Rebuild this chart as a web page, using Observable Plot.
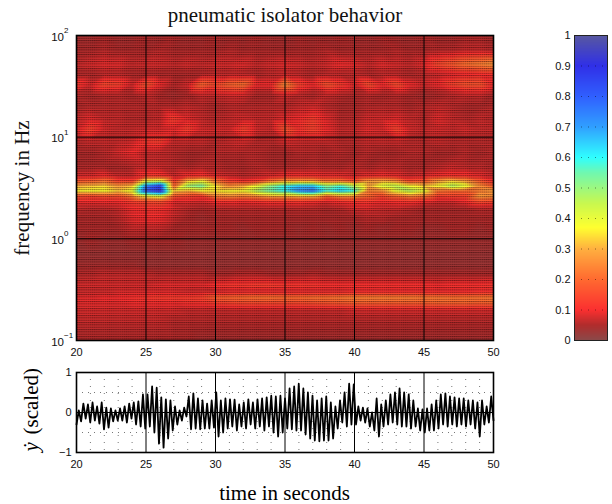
<!DOCTYPE html>
<html><head><meta charset="utf-8">
<style>html,body{margin:0;padding:0;background:#fff}#root{position:relative;width:612px;height:504px;overflow:hidden}
#root svg{position:absolute;overflow:visible}</style>
<script src="https://cdn.jsdelivr.net/npm/d3@7"></script>
<script src="https://cdn.jsdelivr.net/npm/@observablehq/plot@0.6"></script>
</head><body><div id="root"></div>
<script>
const times = [20,21,22,23,24,25,26,27,28,29,30,31,32,33,34,35,36,37,38,39,40,41,42,43,44,45,46,47,48,49,50];
// log10(frequency) of each row, and the heat read along that row (percent of colour scale)
const rowLog = [2,1.85,1.72,1.62,1.52,1.42,1.3,1.18,1.08,.96,.85,.72,.62,.57,.52,.47,.42,.37,.3,.2,.1,0,-.15,-.25,-.35,-.46,-.52,-.575,-.63,-.7,-.8,-1];
const heat = [
[4,4,5,4,4,5,4,5,4,4,5,4,4,5,4,4,5,4,4,5,4,4,5,4,4,5,4,4,5,5,4],
[5,5,6,5,5,5,6,5,5,5,5,6,5,5,5,5,5,5,6,5,5,5,5,6,5,5,6,6,7,7,6],
[7,8,9,9,7,8,8,7,8,7,8,8,9,7,8,9,8,7,8,10,9,7,9,8,7,9,15,18,22,24,27],
[5,5,6,6,5,5,5,5,5,5,6,6,6,5,6,7,6,5,6,6,6,5,6,6,5,6,7,8,9,10,11],
[13,8,15,14,8,17,10,6,8,20,15,20,22,10,10,26,14,10,17,13,8,16,10,16,10,8,10,14,17,17,10],
[6,5,6,6,5,7,5,4,5,7,7,8,8,5,5,8,6,5,7,6,5,6,5,6,5,4,5,6,7,7,5],
[5,6,6,6,6,6,6,6,7,6,5,6,6,6,6,6,7,8,6,5,5,6,6,6,5,6,7,6,5,5,6],
[7,9,7,7,6,6,7,13,9,7,6,7,8,7,7,9,10,13,9,6,6,8,8,9,7,6,9,7,6,7,6],
[8,14,8,7,7,8,8,9,13,8,8,8,14,8,7,17,11,14,10,7,7,9,8,14,8,7,8,7,8,7,7],
[6,7,7,7,8,12,13,7,7,7,6,7,8,6,6,8,7,7,7,6,6,7,7,7,6,6,7,6,6,6,6],
[5,5,6,8,10,7,7,6,5,5,6,6,6,6,5,5,6,6,5,6,5,6,5,5,6,6,5,5,6,5,6],
[5,5,5,5,6,7,7,6,5,6,6,5,5,6,5,5,5,6,5,5,6,5,6,6,5,5,6,7,6,6,5],
[8,8,10,7,7,12,12,7,10,11,8,7,6,7,8,10,10,10,9,9,7,9,10,9,7,8,10,11,11,9,7],
[17,18,22,13,13,40,42,13,32,38,22,13,10,13,22,27,28,28,22,22,16,28,30,26,15,17,28,33,28,18,10],
[30,32,34,28,32,74,85,20,50,54,36,26,30,40,52,60,66,66,52,58,46,30,42,46,38,33,38,48,40,26,18],
[37,38,38,33,40,80,88,33,30,36,36,38,38,48,55,60,72,76,58,64,58,24,26,40,47,40,22,20,20,24,28],
[16,14,16,16,24,38,42,17,14,12,24,26,24,26,30,30,32,32,20,27,26,20,14,20,25,22,13,14,14,28,26],
[10,10,10,10,13,15,16,9,9,8,11,11,10,11,12,12,12,11,9,11,12,12,10,11,12,10,8,8,10,16,15],
[7,6,6,7,10,11,11,8,6,5,6,6,6,6,6,6,6,6,5,6,8,8,7,7,6,5,5,5,5,6,6],
[5,5,5,6,9,10,10,7,5,4,5,5,5,5,5,5,5,5,5,5,5,6,6,5,5,5,5,5,5,5,5],
[5,5,5,5,7,7,7,5,5,5,5,5,4,5,5,5,4,5,4,5,4,5,4,5,5,4,4,5,5,4,5],
[4,5,4,4,5,5,5,5,4,4,4,4,4,4,4,4,4,4,4,4,4,4,4,4,4,4,4,4,4,4,4],
[3,3,3,3,3,3,3,3,3,3,3,3,3,3,3,3,3,3,3,3,3,3,3,3,3,3,3,3,3,3,3],
[4,4,4,4,4,3,3,3,3,3,3,3,3,3,3,3,3,3,3,3,3,3,3,3,3,3,3,3,3,3,3],
[6,6,7,7,7,7,6,6,6,6,5,5,6,6,5,5,5,6,5,5,5,5,5,5,5,5,5,5,5,5,5],
[8,8,8,8,8,8,9,9,9,9,11,12,12,13,13,12,12,12,11,11,11,11,11,11,11,11,10,11,11,11,12],
[7,7,7,8,8,8,8,8,7,7,7,8,8,8,8,8,8,8,8,8,9,9,9,9,9,9,9,9,9,10,10],
[9,9,10,10,11,12,13,13,13,14,19,20,21,22,22,21,21,22,22,23,24,24,24,24,24,23,23,22,22,22,23],
[9,9,9,9,10,10,10,10,11,11,13,14,15,15,15,15,15,16,17,18,19,19,19,19,19,19,20,20,20,19,20],
[8,8,8,8,8,8,8,8,7,7,7,7,7,7,7,7,7,7,7,7,8,8,8,8,8,8,8,8,8,8,8],
[7,7,7,7,7,7,7,6,6,6,6,6,6,6,6,6,6,6,6,6,6,6,6,6,6,6,6,6,6,6,6],
[5,5,5,5,5,5,5,5,5,4,4,4,4,4,4,4,4,4,4,4,4,4,4,4,4,4,4,4,4,4,4]
];
// velocity trace: successive swing peaks, six per second from t=20 to t=50
const ydot = [
-.3,.05,-.22,.22,-.15,.2,-.25,
.25,-.2,.15,-.28,.25,-.42,
.12,-.38,.1,-.22,.05,-.2,
.1,-.2,.15,-.25,.22,-.15,
.25,-.3,.28,-.35,.45,-.4,
.45,-.35,.65,-.5,.62,-.78,
.38,-.88,.33,-.65,.3,-.45,
.15,-.3,.05,-.2,.12,-.1,
.4,-.42,.48,-.4,.35,-.42,
.3,-.4,.22,-.4,.3,-.38,
.5,-.6,.3,-.5,.35,-.4,
.33,-.35,.32,-.45,.2,-.35,
.25,-.4,.33,-.3,.25,-.4,
.33,-.35,.35,-.45,.38,-.35,
.42,-.5,.4,-.6,.42,-.5,
.35,-.4,.6,-.42,.65,-.45,
.72,-.45,.6,-.55,.5,-.65,
.42,-.7,.3,-.72,.35,-.7,
.4,-.7,.25,-.65,.15,-.4,
.3,-.25,.5,-.35,.72,-.3,
.7,-.3,.15,-.2,.12,-.25,
.1,-.35,.0,-.45,.35,-.6,
.2,-.35,.3,-.3,.45,-.25,
.5,-.3,.6,-.35,.5,-.35,
.45,-.4,.3,-.35,.1,-.45,
.08,-.5,.1,-.45,.2,-.45,
.3,-.4,.45,-.3,.48,-.35,
.4,-.3,.38,-.35,.35,-.3,
.35,-.35,.3,-.3,.3,-.4,
.25,-.6,.3,-.3,.15,-.25,.4,-.2];
const ydotTime = ydot.map((_,i)=>20+30*i/(ydot.length-1));
const xTicks = [20,25,30,35,40,45,50];
const fDecades = [100,10,1,.1];
const fExp = ["2","1","0","\u22121"];
const yTicks = [-1,0,1];
const yTickLabels = ["\u22121","0","1"];
const minorT = [21,22,23,24,26,27,28,29,31,32,33,34,36,37,38,39,41,42,43,44,46,47,48,49];
const minorY = [-.5,.5];
const barTicks = [0,.1,.2,.3,.4,.5,.6,.7,.8,.9,1];
const colorStops = [0,.05,.1,.2,.3,.37,.45,.55,.6,.7,.8,.9,1];
const colorRange = ["#8a4a4a","#b02c2c","#fb3030","#ff6a30","#ffb040","#ffff30","#c8f850","#70f8b0","#30ffff","#30a0ff","#3060ff","#3030e8","#5858a0"];
const colorScale = {type:"linear",domain:colorStops,range:colorRange,clamp:true,interpolate:"rgb"};
const sans = "'Liberation Sans',Arial,sans-serif", serif="'Liberation Serif',serif";
const heatPts = rowLog.flatMap((l,r)=>times.map((t,c)=>({t,f:Math.pow(10,l),v:heat[r][c]/100})));
const svgNS="http://www.w3.org/2000/svg";
const tex = ()=>{const d=document.createElementNS(svgNS,"defs");
 d.innerHTML=`<pattern id="tex" patternUnits="userSpaceOnUse" width="2.13" height="2.33"><rect x="0" y="0" width="2.13" height="1" fill="#200000" fill-opacity=".3"/><rect x="0" y="0" width="1" height="1" fill="#200000" fill-opacity=".35"/></pattern>`;return d;};
const root=document.getElementById("root");
const place=(s)=>{s.style.left="0";s.style.top="0";root.appendChild(s);};

place(Plot.plot({
 width:520,height:372,marginLeft:76,marginRight:27,marginTop:35,marginBottom:32,
 x:{domain:[20,50]},y:{type:"log",domain:[.1,100],axis:null},color:colorScale,
 style:{fontFamily:sans,fontSize:"11px",color:"#111",background:"transparent"},
 marks:[
  tex,
  Plot.raster(heatPts,{x:"t",y:"f",fill:"v",interpolate:"barycentric",imageRendering:"auto"}),
  Plot.frame({fill:"url(#tex)",stroke:null}),
  Plot.gridX(xTicks,{stroke:"#000",strokeOpacity:1,strokeWidth:1}),
  Plot.gridY(fDecades,{stroke:"#000",strokeOpacity:1,strokeWidth:1}),
  Plot.frame({stroke:"#000",strokeWidth:1.6}),
  Plot.axisX(xTicks,{tickSize:0,tickPadding:8,label:null,fontSize:11,anchor:"bottom"}),
  Plot.text(fDecades,{x:()=>20,y:d=>d,text:()=>"10",textAnchor:"end",dx:-12.5,dy:1.5,fontSize:11.5}),
  Plot.text(fDecades,{x:()=>20,y:d=>d,text:(d,i)=>fExp[i],textAnchor:"start",dx:-12.5,dy:-5,fontSize:8}),
  Plot.text(["pneumatic isolator behavior"],{frameAnchor:"top",dy:-28,fontFamily:serif,fontSize:21}),
  Plot.text(["frequency in Hz"],{frameAnchor:"left",textAnchor:"middle",rotate:-90,dx:-54,fontFamily:serif,fontSize:21})
 ]}));

place(Plot.plot({
 width:520,height:452,marginLeft:76,marginRight:27,marginTop:372,marginBottom:0,
 x:{domain:[20,50]},y:{domain:[-1,1]},
 style:{fontFamily:sans,fontSize:"11px",color:"#111",background:"transparent"},
 marks:[
  Plot.gridX(minorT,{stroke:"#777",strokeOpacity:1,strokeWidth:1,strokeDasharray:"1 6"}),
  Plot.gridY(minorY,{stroke:"#777",strokeOpacity:1,strokeWidth:1,strokeDasharray:"1 5"}),
  Plot.gridX(xTicks,{stroke:"#000",strokeOpacity:1,strokeWidth:1}),
  Plot.ruleY([0],{stroke:"#000",strokeWidth:1}),
  Plot.line(ydot,{x:(d,i)=>ydotTime[i],y:d=>d,stroke:"#000",strokeWidth:1.8,curve:"linear"}),
  Plot.frame({stroke:"#000",strokeWidth:1.6}),
  Plot.axisX(xTicks,{tickSize:0,tickPadding:8,label:null,fontSize:11,anchor:"bottom"}),
  Plot.axisY(yTicks,{tickSize:0,tickPadding:5,label:null,fontSize:11,tickFormat:(d,i)=>yTickLabels[i],anchor:"left"})
 ]}));

place(Plot.plot({
 width:612,height:504,margin:0,x:{domain:[0,612],axis:null},y:{domain:[504,0],axis:null},
 style:{background:"transparent"},
 marks:[
  Plot.text(["time in seconds"],{frameAnchor:"bottom",dx:-22,dy:-5,fontFamily:serif,fontSize:21}),
  Plot.text(["(scaled)"],{frameAnchor:"left",rotate:-90,dx:31,dy:182,fontFamily:serif,fontSize:21}),
  Plot.text(["\u1E8F"],{frameAnchor:"left",rotate:-90,dx:31,dy:199,fontFamily:serif,fontSize:21,fontStyle:"italic"})
 ]}));

place(Plot.plot({
 width:612,height:372,marginLeft:574,marginRight:5,marginTop:35,marginBottom:32,
 x:{domain:[0,1],axis:null},y:{domain:[0,1],axis:null},color:colorScale,
 style:{fontFamily:sans,fontSize:"11px",color:"#111",background:"transparent"},
 marks:[
  Plot.raster({x1:0,x2:1,y1:0,y2:1,fill:(x,y)=>y,width:1,height:306}),
  Plot.ruleY(barTicks,{stroke:"#000",strokeOpacity:.45,strokeDasharray:"1 6"}),
  Plot.frame({stroke:"#222",strokeWidth:1}),
  Plot.axisY(barTicks,{tickSize:0,tickPadding:4,label:null,fontSize:11,tickFormat:d=>String(d),anchor:"left"})
 ]}));
</script></body></html>
